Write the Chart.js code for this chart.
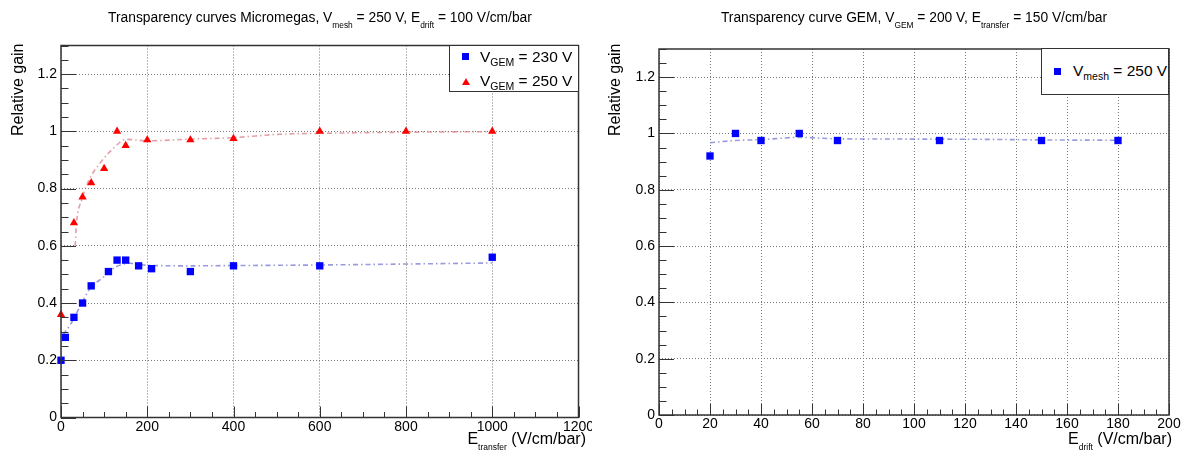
<!DOCTYPE html>
<html>
<head>
<meta charset="utf-8">
<script src="https://cdn.jsdelivr.net/npm/chart.js@4.4.1/dist/chart.umd.min.js"></script>
<style>
  body { margin: 0; background: #fff; }
  #wrap { position: relative; width: 1184px; height: 450px; font-family: "Liberation Sans", Arial, sans-serif; color: #000; }
  .pad { position: absolute; top: 0; width: 592px; height: 450px; }
  .txt { position: absolute; white-space: nowrap; line-height: 1; }
  .sub { position: relative; }
  .title { font-size: 13.8px; top: 11.4px; transform: translateX(-50%); }
  .title .sub { font-size: 8.4px; top: 6px; }
  .axt { font-size: 16px; }
  .axt .sub { font-size: 8.5px; top: 6px; }
  .ytitle { font-size: 16px; transform-origin: 0 0; transform: rotate(-90deg); }
  .legend { position: absolute; background: #fff; border: 1.3px solid #333; box-sizing: border-box; }
  .entry { position: absolute; font-size: 15.5px; line-height: 1; white-space: nowrap; }
  .entry .sub { font-size: 10.5px; top: 4px; }
  .sq { position: absolute; width: 7px; height: 7px; background: #00f; }
  .tri { position: absolute; width: 0; height: 0; border-left: 4px solid transparent; border-right: 4px solid transparent; border-bottom: 7px solid #f00; }
</style>
</head>
<body>
<div id="wrap">
  <div class="pad" style="left:0"><canvas id="transferChart" width="592" height="450"></canvas></div>
  <div class="pad" style="left:592px"><canvas id="driftChart" width="592" height="450"></canvas></div>

  <div class="txt title" style="left:320px">Transparency curves Micromegas, V<span class="sub">mesh</span> = 250 V, E<span class="sub">drift</span> = 100 V/cm/bar</div>
  <div class="txt title" style="left:914px">Transparency curve GEM, V<span class="sub">GEM</span> = 200 V, E<span class="sub">transfer</span> = 150 V/cm/bar</div>

  <div class="txt axt" style="right:598px; top:431px">E<span class="sub">transfer</span> (V/cm/bar)</div>
  <div class="txt axt" style="right:12px; top:431px">E<span class="sub">drift</span> (V/cm/bar)</div>
  <div class="txt ytitle" style="left:10px; top:136px">Relative gain</div>
  <div class="txt ytitle" style="left:607px; top:136px">Relative gain</div>

  <div class="legend" style="left:449px; top:45px; width:130px; height:47px">
    <div class="sq" style="left:12px; top:7px"></div>
    <div class="entry" style="left:30px; top:3px">V<span class="sub">GEM</span> = 230 V</div>
    <div class="tri" style="left:12px; top:32px"></div>
    <div class="entry" style="left:30px; top:27px">V<span class="sub">GEM</span> = 250 V</div>
  </div>
  <div class="legend" style="left:1041px; top:48px; width:128px; height:47px">
    <div class="sq" style="left:12px; top:19px"></div>
    <div class="entry" style="left:31px; top:14px">V<span class="sub">mesh</span> = 250 V</div>
  </div>
</div>

<script>
// Micromegas transparency vs transfer field (V/cm/bar)
const transferV230 = [0, 10, 30, 50, 70, 110, 130, 150, 180, 210, 300, 400, 600, 1000];
const gainV230 = [0.20, 0.28, 0.35, 0.40, 0.46, 0.51, 0.55, 0.55, 0.53, 0.52, 0.51, 0.53, 0.53, 0.56];
const transferV250 = [0, 30, 50, 70, 100, 130, 150, 200, 300, 400, 600, 800, 1000];
const gainV250 = [0.36, 0.68, 0.77, 0.82, 0.87, 1.00, 0.95, 0.97, 0.97, 0.975, 1.00, 1.00, 1.00];

// fitted curves, read along the drawn fit
const fitTransferV230 = [5, 21, 50, 67, 98, 128, 159, 200, 300, 400, 600, 1000];
const fitGainV230 = [0.29, 0.323, 0.405, 0.45, 0.49, 0.527, 0.539, 0.532, 0.53, 0.531, 0.533, 0.54];
const fitTransferV250 = [33, 36, 48, 63, 90, 121, 151, 200, 300, 400, 508, 600, 800, 1000];
const fitGainV250 = [0.60, 0.68, 0.76, 0.824, 0.888, 0.94, 0.972, 0.967, 0.973, 0.978, 0.99, 0.993, 0.997, 0.999];

// GEM transparency vs drift field (V/cm/bar)
const driftField = [20, 30, 40, 55, 70, 110, 150, 180];
const gainMesh250 = [0.92, 1.00, 0.975, 1.00, 0.975, 0.975, 0.975, 0.975];
const fitDriftField = [20, 30, 40, 55, 70, 100, 130, 150, 180];
const fitGainMesh250 = [0.967, 0.975, 0.978, 0.986, 0.981, 0.98, 0.979, 0.977, 0.976];

const xy = (xs, ys) => xs.map((x, i) => ({ x, y: ys[i] }));

// ROOT-like frame: box around the plot and inward ticks on the bottom/left axes
const frameTicks = {
  id: "frameTicks",
  afterDraw(chart, args, opts) {
    const { ctx, chartArea: a, scales } = chart;
    ctx.save();
    ctx.strokeStyle = "#333";
    ctx.lineWidth = 1;
    const tickRun = (scale, minor, every, majLen, minLen, horiz) => {
      const n = Math.round((scale.max - scale.min) / minor);
      for (let i = 0; i <= n; i++) {
        const len = i % every === 0 ? majLen : minLen;
        const p = Math.round(scale.getPixelForValue(scale.min + i * minor)) + 0.5;
        ctx.beginPath();
        if (horiz) { ctx.moveTo(p, a.bottom); ctx.lineTo(p, a.bottom - len); }
        else { ctx.moveTo(a.left, p); ctx.lineTo(a.left + len, p); }
        ctx.stroke();
      }
    };
    tickRun(scales.x, opts.xMinor, opts.xEvery, 11, 5.5, true);
    tickRun(scales.y, 0.05, 4, 15, 7.5, false);
    ctx.lineWidth = 1.5;
    ctx.strokeRect(a.left, a.top, a.right - a.left, a.bottom - a.top);
    ctx.restore();
  }
};

const tickFont = { family: "'Liberation Sans', Arial, sans-serif", size: 14 };

// axis boxes get fixed sizes so the plot area lands where it should
function buildChart(id, datasets, xMax, xStep, box, frame) {
  return new Chart(document.getElementById(id), {
    type: "scatter",
    data: { datasets },
    options: {
      responsive: false,
      animation: false,
      devicePixelRatio: 1,
      layout: { padding: { left: 0, bottom: 0, top: box.top, right: box.right } },
      plugins: { legend: { display: false }, tooltip: { enabled: false }, frameTicks: frame },
      scales: {
        x: {
          type: "linear", min: 0, max: xMax,
          afterFit(s) { s.height = box.bottom; s.paddingLeft = 0; s.paddingRight = 0; },
          grid: { color: "#777", lineWidth: 1, drawTicks: false },
          border: { display: false, dash: [1, 2] },
          ticks: { stepSize: xStep, includeBounds: false, maxRotation: 0, autoSkip: false, padding: 1, color: "#000", font: tickFont,
                   callback: v => String(v) }
        },
        y: {
          type: "linear", min: 0, max: 1.3,
          afterFit(s) { s.width = box.left; s.paddingTop = 0; s.paddingBottom = 0; },
          grid: { color: "#777", lineWidth: 1, drawTicks: false },
          border: { display: false, dash: [1, 2] },
          ticks: { stepSize: 0.2, includeBounds: false, autoSkip: false, padding: 4, color: "#000", font: tickFont,
                   callback: v => String(Math.round(v * 10) / 10) }
        }
      }
    },
    plugins: [frameTicks]
  });
}

const markers = (data, color, style, r) => ({
  data, showLine: false, pointStyle: style, pointRadius: r, pointBorderWidth: 0,
  pointBackgroundColor: color, pointBorderColor: color, clip: false
});
const fitLine = (data, color) => ({
  data, showLine: true, pointRadius: 0, borderColor: color, borderWidth: 1.6,
  borderDash: [5, 3, 1.5, 3], cubicInterpolationMode: "monotone", clip: false
});

buildChart("transferChart", [
  markers(xy(transferV230, gainV230), "#0000ff", "rect", 5.2),
  markers(xy(transferV250, gainV250), "#ff0000", "triangle", 4.8),
  fitLine(xy(fitTransferV230, fitGainV230), "rgba(120,120,210,0.75)"),
  fitLine(xy(fitTransferV250, fitGainV250), "rgba(215,120,130,0.7)")
], 1200, 200, { left: 61, right: 13.5, top: 45.5, bottom: 32.5 }, { xMinor: 50, xEvery: 4 });

buildChart("driftChart", [
  markers(xy(driftField, gainMesh250), "#0000ff", "rect", 5.2),
  fitLine(xy(fitDriftField, fitGainMesh250), "rgba(120,120,210,0.75)")
], 200, 20, { left: 67, right: 15, top: 49, bottom: 35 }, { xMinor: 5, xEvery: 4 });
</script>
</body>
</html>
